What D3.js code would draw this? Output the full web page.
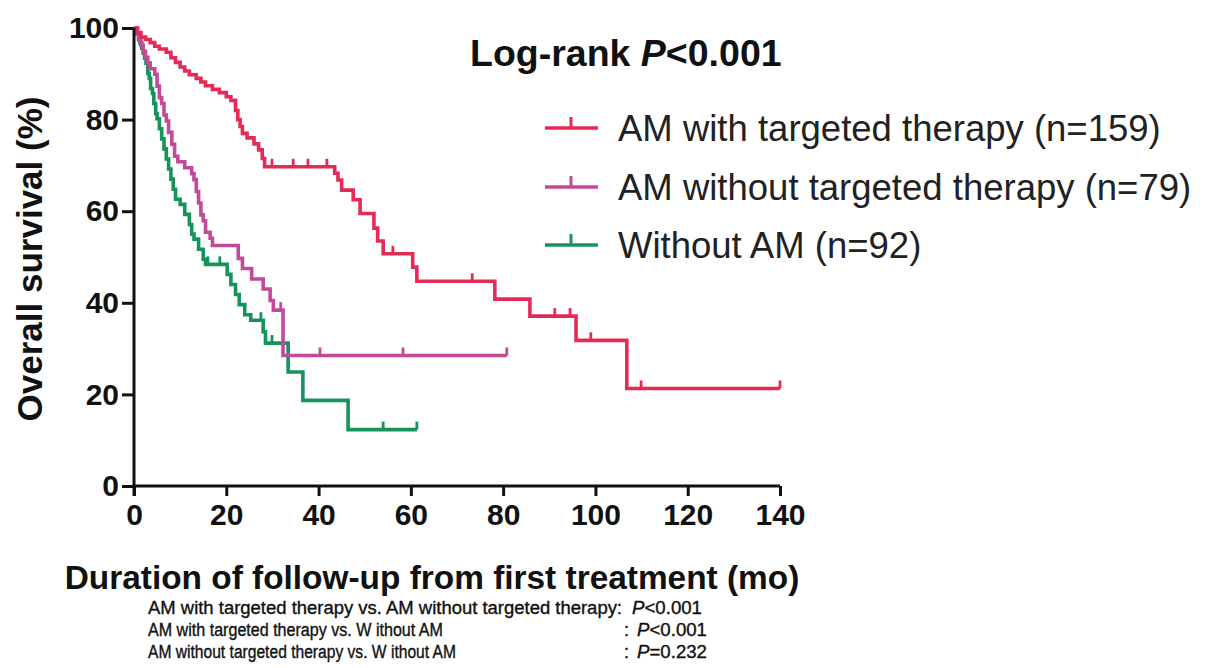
<!DOCTYPE html>
<html><head><meta charset="utf-8">
<script src="https://cdn.jsdelivr.net/npm/d3@7"></script>
<style>
body{margin:0;background:#fff;}
svg{display:block;font-family:"Liberation Sans",Arial,sans-serif;}
</style></head>
<body>
<svg id="c" width="1209" height="668"></svg>
<script>
// ---------- data ----------
const xTicks = [0,20,40,60,80,100,120,140];
const yTicks = [0,20,40,60,80,100];

const seriesNames = ["AM with targeted therapy (n=159)","AM without targeted therapy (n=79)","Without AM (n=92)"];
const seriesColors = ["#e42a55","#c24a97","#15935a"];

// AM with targeted therapy: step times (mo) and survival (%)
const redTimes = [0,0.8,1.5,2.5,3.5,4.5,5.5,7,8,9,10,11,12,13.5,14.5,15.5,17,18.5,20,21,22,22.5,23,23.5,24.5,26,27,27.8,28.3,43.5,44.2,45,47.5,49,52,52.8,54,60.4,61.3,78.2,85.8,95.8,106.8,140];
const redSurv  = [100,99,98,97.5,96.8,96,95.4,94.7,93.5,92.5,91.5,90.6,89.8,89,88.2,87.4,86.6,85.9,85,84.2,82,80,78.5,77,76,74.7,73.4,71.5,69.7,68.3,66.8,64.6,62.5,59.5,56.3,53.5,50.7,47.8,44.7,40.8,37.1,31.8,21.3,21.3];
const redCensor = [29.9,34.5,37.7,41.8,56.1,73.3,91.2,94.5,99.0,109.9,140];

// AM without targeted therapy
const magTimes = [0,0.5,1,1.5,2,2.5,3,3.5,4.5,5,5.5,6,6.5,7,7.5,8.2,8.8,9.5,11,12.5,13,13.5,14,14.5,15,15.5,16.5,17,22.6,23.5,25.5,28,29.5,30.2,32.3,80.8];
const magSurv  = [100,98.7,97.4,96.2,94.9,93.6,92.4,91.1,89.9,87.3,84.8,83.5,81,79.7,77.2,74.6,72,70.8,69.5,68.2,66.9,64.3,61.8,59.2,57.9,55.4,54.1,52.5,49.7,47.5,45.2,43,40.5,38.4,28.5,28.5];
const magCensor = [31.8,40.3,58.3,80.8];

// Without AM
const grnTimes = [0,0.5,1,1.3,1.7,2,2.3,2.6,3,3.3,3.6,4,4.3,4.7,5,5.5,6,6.5,7,7.5,8,8.5,9,10,11,12,12.5,13,14,15,15.5,20.2,21,22,22.8,24,25.3,28,28.5,33.4,36.6,46.4,61.3];
const grnSurv  = [100,98.9,97.8,96.7,95.6,94.5,93.4,92.3,90.1,89,86.8,85.7,83.5,81.3,80.2,78,75.8,73.6,71.4,69.2,67,64.8,62.6,61.5,59.3,57.1,55,53.9,51.7,49.5,48.4,46.2,44,41.8,39.6,37.4,36.2,33.7,31.2,24.9,18.7,12.3,12.3];
const grnCensor = [16,18.6,27.5,29.9,54,61.3];

const logRank = "P<0.001";
const pairLabels = ["AM with targeted therapy vs. AM without targeted therapy:","AM with targeted therapy vs. W ithout AM","AM without targeted therapy vs. W ithout AM"];
const pairP = ["P<0.001","P<0.001","P=0.232"];

// ---------- layout ----------
const svg = d3.select("#c");
const x = d3.scaleLinear().domain([0,140]).range([134,780]);
const y = d3.scaleLinear().domain([0,100]).range([486,28]);

const series = [
  {t:redTimes,s:redSurv,c:redCensor,col:seriesColors[0]},
  {t:magTimes,s:magSurv,c:magCensor,col:seriesColors[1]},
  {t:grnTimes,s:grnSurv,c:grnCensor,col:seriesColors[2]}
];

function survAt(ser,t){let v=100;for(let i=0;i<ser.t.length;i++){if(ser.t[i]<=t+1e-9)v=ser.s[i];}return v;}

const line = d3.line().x(d=>x(d[0])).y(d=>y(d[1])).curve(d3.curveStepAfter);

[2,1,0].forEach(i=>{
  const ser = series[i];
  const pts = ser.t.map((t,j)=>[t,ser.s[j]]);
  svg.append("path").attr("d",line(pts)).attr("fill","none").attr("stroke",ser.col).attr("stroke-width",3.6);
  svg.append("g").selectAll("line").data(ser.c).join("line")
    .attr("x1",d=>x(d)).attr("x2",d=>x(d))
    .attr("y1",d=>y(survAt(ser,d))).attr("y2",d=>y(survAt(ser,d))-8)
    .attr("stroke",ser.col).attr("stroke-width",2.8);
});

// axes
const xAxis = svg.append("g").attr("transform","translate(0,486)")
  .call(d3.axisBottom(x).tickValues(xTicks).tickSize(10).tickPadding(8).tickFormat(d3.format("d")));
const yAxis = svg.append("g").attr("transform","translate(134,0)")
  .call(d3.axisLeft(y).tickValues(yTicks).tickSize(12).tickPadding(3).tickFormat(d3.format("d")));
[xAxis,yAxis].forEach(g=>{
  g.select(".domain").attr("stroke","#111").attr("stroke-width",3);
  g.selectAll(".tick line").attr("stroke","#111").attr("stroke-width",3);
  g.selectAll(".tick text").attr("fill","#111").attr("font-size",30).attr("font-weight","bold")
   .attr("font-family","'Liberation Sans',Arial,sans-serif");
});
xAxis.select(".domain").attr("d","M134,0H780");
yAxis.select(".domain").attr("d","M0,28V496");

// axis titles
svg.append("text").attr("transform","translate(42,259) rotate(-90)").attr("text-anchor","middle")
  .attr("font-size",35).attr("font-weight","bold").attr("fill","#111").text("Overall survival (%)");
svg.append("text").attr("x",432).attr("y",589).attr("text-anchor","middle")
  .attr("font-size",33.4).attr("fill","#111").attr("font-weight","bold").text("Duration of follow-up from first treatment (mo)");

// log-rank
const lr = svg.append("text").attr("x",470).attr("y",66).attr("font-size",37.5).attr("font-weight","bold").attr("fill","#111");
lr.append("tspan").text("Log-rank ");
lr.append("tspan").attr("font-style","italic").text(logRank.slice(0,1));
lr.append("tspan").text(logRank.slice(1));

// legend
const legY = [128,187,245];
seriesNames.forEach((n,i)=>{
  const g = svg.append("g");
  g.append("line").attr("x1",545).attr("x2",598).attr("y1",legY[i]).attr("y2",legY[i]).attr("stroke",seriesColors[i]).attr("stroke-width",3.5);
  g.append("line").attr("x1",571).attr("x2",571).attr("y1",legY[i]).attr("y2",legY[i]-11).attr("stroke",seriesColors[i]).attr("stroke-width",3);
  g.append("text").attr("x",618).attr("y",legY[i]+13).attr("font-size",36.5).attr("fill","#222").text(n);
});

// pairwise
const pY = [614,636,658];
const labelW = [474,295,308];
pairLabels.forEach((l,i)=>{
  svg.append("text").attr("x",148).attr("y",pY[i]).attr("font-size",18).attr("fill","#111")
    .attr("stroke","#111").attr("stroke-width",0.35)
    .attr("textLength",labelW[i]).attr("lengthAdjust","spacingAndGlyphs").text(l);
  if(i>0) svg.append("text").attr("x",624).attr("y",pY[i]).attr("font-size",18).attr("fill","#111")
    .attr("stroke","#111").attr("stroke-width",0.35).text(":");
  const t = svg.append("text").attr("x",i===0?632:637).attr("y",pY[i]).attr("font-size",18).attr("fill","#111")
    .attr("stroke","#111").attr("stroke-width",0.35)
    .attr("textLength",70).attr("lengthAdjust","spacingAndGlyphs");
  t.append("tspan").attr("font-style","italic").text(pairP[i].slice(0,1));
  t.append("tspan").text(pairP[i].slice(1));
});
</script>
</body></html>
